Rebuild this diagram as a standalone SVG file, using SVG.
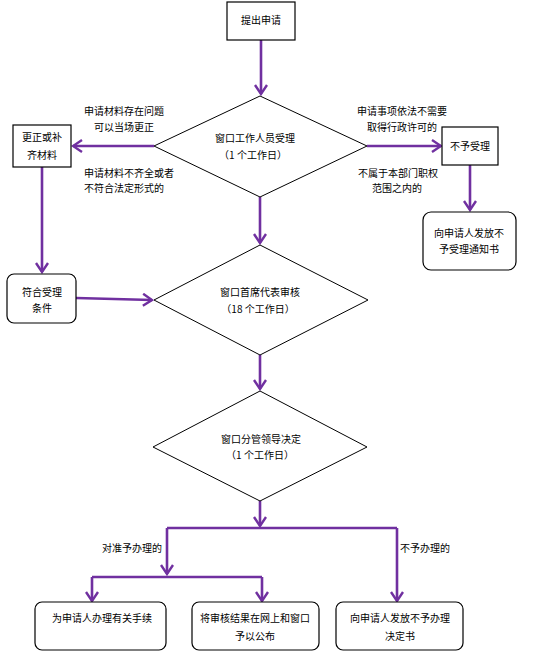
<svg xmlns="http://www.w3.org/2000/svg" width="552" height="656" viewBox="0 0 552 656">
<style>
.box{fill:#fff;stroke:#000;stroke-width:1.2}
.dia{fill:#fff;stroke:#000;stroke-width:1}
.t{font-family:"Noto Sans CJK SC","Noto Sans",sans-serif;font-size:10px;fill:#000;text-anchor:middle}
.tl{font-family:"Noto Sans CJK SC","Noto Sans",sans-serif;font-size:10px;fill:#000;text-anchor:start}
.c{fill:none;stroke:#7030A0;stroke-width:2.6}
</style>
<defs>
<marker id="ah" markerUnits="userSpaceOnUse" markerWidth="12" markerHeight="14" viewBox="0 0 12 14" refX="10" refY="7" orient="auto">
<path d="M1,1 L10,7 L1,13" fill="none" stroke="#7030A0" stroke-width="2.4"/>
</marker>
</defs>
<rect width="552" height="656" fill="#fff"/>
<g id="connectors">
<path class="c" d="M261,40 V94" marker-end="url(#ah)"/>
<path class="c" d="M154,146 H73" marker-end="url(#ah)"/>
<path class="c" d="M367,146 H441" marker-end="url(#ah)"/>
<path class="c" d="M470,165 V210" marker-end="url(#ah)"/>
<path class="c" d="M42,167 V272" marker-end="url(#ah)"/>
<path class="c" d="M76,298 L152,300" marker-end="url(#ah)"/>
<path class="c" d="M260,197 V243" marker-end="url(#ah)"/>
<path class="c" d="M260,355 V389" marker-end="url(#ah)"/>
<path class="c" d="M260,501 V526" marker-end="url(#ah)"/>
<path class="c" d="M167,528 H397"/>
<path class="c" d="M167,528 V574" marker-end="url(#ah)"/>
<path class="c" d="M397,528 V601" marker-end="url(#ah)"/>
<path class="c" d="M92,577 H262"/>
<path class="c" d="M92,577 V601" marker-end="url(#ah)"/>
<path class="c" d="M262,577 V601" marker-end="url(#ah)"/>
</g>
<g id="labels">
<text class="t" x="124" y="115">申请材料存在问题</text>
<text class="t" x="124" y="131">可以当场更正</text>
<text class="tl" x="84" y="177">申请材料不齐全或者</text>
<text class="tl" x="84" y="192">不符合法定形式的</text>
<text class="t" x="402" y="115">申请事项依法不需要</text>
<text class="t" x="402" y="131">取得行政许可的</text>
<text class="tl" x="358" y="177">不属于本部门职权</text>
<text class="t" x="397" y="192">范围之内的</text>
<text class="t" x="132" y="552">对准予办理的</text>
<text class="t" x="425" y="552">不予办理的</text>
</g>
<g id="n-start">
<rect class="box" x="227" y="2" width="68" height="38"/>
<text class="t" x="261" y="24">提出申请</text>
</g>
<g id="n-accept">
<polygon class="dia" points="260,96 367,146 260,197 154,146"/>
<text class="t" x="255" y="142">窗口工作人员受理</text>
<text class="t" x="253" y="159">（1 个工作日）</text>
</g>
<g id="n-correct">
<rect class="box" x="13" y="125" width="58" height="42"/>
<text class="t" x="42" y="141">更正或补</text>
<text class="t" x="42" y="159">齐材料</text>
</g>
<g id="n-reject">
<rect class="box" x="442" y="127" width="56" height="38"/>
<text class="t" x="470" y="150">不予受理</text>
</g>
<g id="n-notice">
<rect class="box" x="423" y="212" width="93" height="58" rx="8"/>
<text class="t" x="469" y="237">向申请人发放不</text>
<text class="t" x="469" y="253">予受理通知书</text>
</g>
<g id="n-ok">
<rect class="box" x="7" y="274" width="69" height="49" rx="7"/>
<text class="t" x="42" y="296">符合受理</text>
<text class="t" x="42" y="312">条件</text>
</g>
<g id="n-review">
<polygon class="dia" points="260,245 368,300 260,355 154,300"/>
<text class="t" x="260" y="296">窗口首席代表审核</text>
<text class="t" x="258" y="313">（18 个工作日）</text>
</g>
<g id="n-decide">
<polygon class="dia" points="260,391 367,447 260,501 153,447"/>
<text class="t" x="261" y="443">窗口分管领导决定</text>
<text class="t" x="260" y="459">（1 个工作日）</text>
</g>
<g id="n-handle">
<rect class="box" x="35" y="602" width="131" height="48" rx="7"/>
<text class="t" x="102" y="622">为申请人办理有关手续</text>
</g>
<g id="n-publish">
<rect class="box" x="192" y="602" width="127" height="48" rx="7"/>
<text class="t" x="255" y="622">将审核结果在网上和窗口</text>
<text class="t" x="255" y="640">予以公布</text>
</g>
<g id="n-refuse">
<rect class="box" x="336" y="602" width="127" height="48" rx="7"/>
<text class="t" x="400" y="622">向申请人发放不予办理</text>
<text class="t" x="400" y="640">决定书</text>
</g>
</svg>
